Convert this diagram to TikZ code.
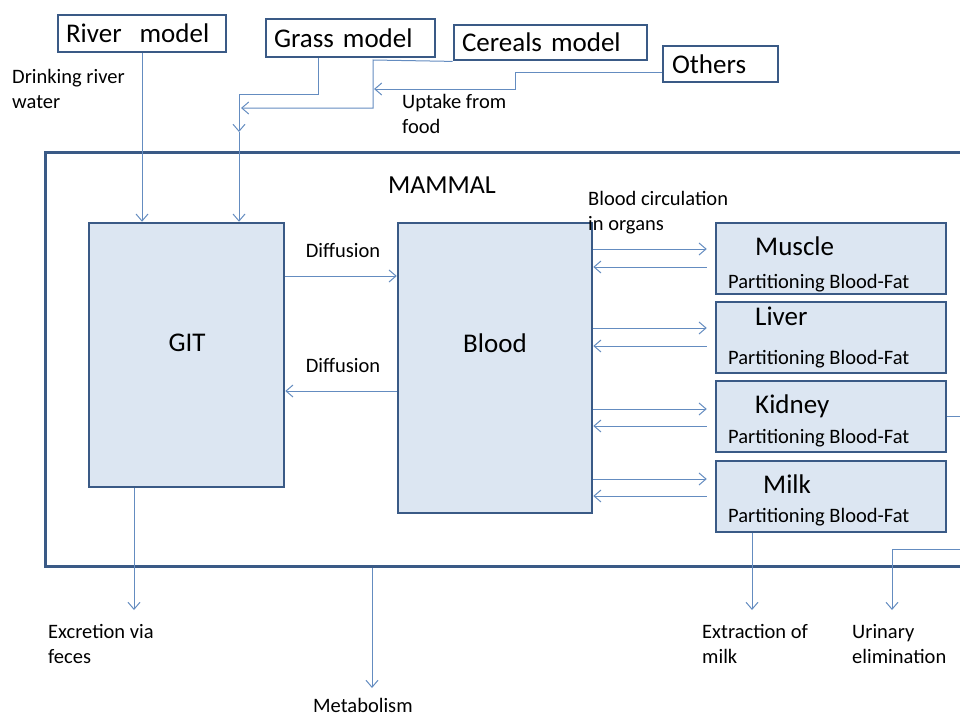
\documentclass[tikz,border=0pt]{standalone}
\usepackage{fontspec}
\setmainfont{Carlito}
\usetikzlibrary{arrows.meta}
\definecolor{edgeblue}{RGB}{58,90,134}
\definecolor{fillblue}{RGB}{220,230,242}
\definecolor{flowblue}{RGB}{100,140,192}
\tikzset{
  bigfont/.style={font=\fontsize{27}{32}\selectfont},
  smallfont/.style={font=\fontsize{20.5}{24.5}\selectfont},
  topbox/.style={draw=edgeblue, line width=2.8pt, fill=white, inner ysep=0pt, inner xsep=8pt, align=left, bigfont},
  compbox/.style={draw=edgeblue, line width=2.5pt, fill=fillblue, inner sep=0pt, bigfont},
  framebox/.style={draw=edgeblue, line width=3pt, inner sep=0pt},
  lbl/.style={inner sep=0pt, smallfont, align=left},
  flowarrow/.style={draw=flowblue, line width=1pt, -{Straight Barb[length=7pt,width=12pt,line width=1pt]}},
}
\begin{document}
\begin{tikzpicture}[x=1pt,y=-1pt]
\useasboundingbox (0,0) rectangle (960,717);
\clip (0,0) rectangle (960,717);

% outer frame
\node[framebox, minimum width=955, minimum height=414] (mammal) at (522.5,359) {};
\node[inner sep=0pt, font=\fontsize{26}{30}\selectfont, anchor=base] (mammallbl) at (442,193) {MAMMAL};

% top source boxes
\node[topbox, text width=152, minimum height=37] (river) at (142,33.5) {River\ \ model};
\node[topbox, text width=153, minimum height=38] (grass) at (350.5,38) {Grass model};
\node[topbox, text width=177, minimum height=35] (cereals) at (550.5,42.5) {Cereals model};
\node[topbox, text width=97, inner xsep=9pt, minimum height=36] (others) at (720.5,64) {Others};

% compartments
\node[compbox, minimum width=195, minimum height=264] (git) at (186.5,355) {};
\node[inner sep=0pt, bigfont] (gittext) at (187,343) {GIT};
\node[compbox, minimum width=194, minimum height=290] (blood) at (495,368) {};
\node[inner sep=0pt, bigfont] (bloodtext) at (495,343) {Blood};

\node[compbox, minimum width=230, minimum height=71] (muscle) at (831,258.5) {};
\node[compbox, minimum width=230, minimum height=71] (liver) at (831,337.5) {};
\node[compbox, minimum width=230, minimum height=71] (kidney) at (831,416.5) {};
\node[compbox, minimum width=230, minimum height=71] (milk) at (831,496.5) {};

\node[inner sep=0pt, bigfont, anchor=base west] (musclename) at (755,255) {Muscle};
\node[inner sep=0pt, bigfont, anchor=base west] (livername) at (755,325) {Liver};
\node[inner sep=0pt, bigfont, anchor=base west] (kidneyname) at (755,413) {Kidney};
\node[inner sep=0pt, bigfont, anchor=base west] (milkname) at (763,493) {Milk};
\node[lbl, anchor=base west] (musclepart) at (728,288) {Partitioning Blood-Fat};
\node[lbl, anchor=base west] (liverpart) at (728,364) {Partitioning Blood-Fat};
\node[lbl, anchor=base west] (kidneypart) at (728,443) {Partitioning Blood-Fat};
\node[lbl, anchor=base west] (milkpart) at (728,522) {Partitioning Blood-Fat};

% labels
\node[lbl, anchor=base west] (drinklbl) at (12,108) {Drinking river\\water};
\node[lbl, anchor=base west] (uptakelbl) at (402,133) {Uptake from\\food};
\node[lbl, anchor=base west] (circlbl) at (588,230) {Blood circulation\\in organs};
\node[lbl, anchor=base] (diff1) at (343,257) {Diffusion};
\node[lbl, anchor=base] (diff2) at (343,372) {Diffusion};
\node[lbl, anchor=base west] (feceslbl) at (48,663) {Excretion via\\feces};
\node[lbl, anchor=base west] (milklbl) at (702,663) {Extraction of\\milk};
\node[lbl, anchor=base west] (urinelbl) at (852,663) {Urinary\\elimination};
\node[lbl, anchor=base west] (metablbl) at (313,712) {Metabolism};

% free ends
\coordinate (grassjoin) at (239,132);
\coordinate (fecesend) at (134,610);
\coordinate (metabend) at (372,688);
\coordinate (milkend) at (752,610);
\coordinate (urineend) at (892,610);

% inputs
\draw[flowarrow] (river.south) -- (river.south |- git.north);
\draw[flowarrow] (318,0 |- grass.south) -- (318,94) -- (239,94) -- (grassjoin);
\draw[flowarrow] (grassjoin) -- (grassjoin |- git.north);
\draw[flowarrow] (cereals.south west) -- (373,60) -- (373,108) -- (241,108);
\draw[flowarrow] (others.west |- 0,72) -- (515,72) -- (515,89) -- (374,89);

% diffusion
\draw[flowarrow] (git.east |- 0,276) -- (blood.west |- 0,276);
\draw[flowarrow] (blood.west |- 0,391) -- (git.east |- 0,391);

% circulation
\draw[flowarrow, shorten >=8pt] (blood.east |- 0,249) -- (muscle.west |- 0,249);
\draw[flowarrow, shorten <=8pt] (muscle.west |- 0,267) -- (blood.east |- 0,267);
\draw[flowarrow, shorten >=8pt] (blood.east |- 0,328) -- (liver.west |- 0,328);
\draw[flowarrow, shorten <=8pt] (liver.west |- 0,346) -- (blood.east |- 0,346);
\draw[flowarrow, shorten >=8pt] (blood.east |- 0,409) -- (kidney.west |- 0,409);
\draw[flowarrow, shorten <=8pt] (kidney.west |- 0,426) -- (blood.east |- 0,426);
\draw[flowarrow, shorten >=8pt] (blood.east |- 0,479) -- (milk.west |- 0,479);
\draw[flowarrow, shorten <=8pt] (milk.west |- 0,496) -- (blood.east |- 0,496);

% outputs
\draw[flowarrow] (fecesend |- git.south) -- (fecesend);
\draw[flowarrow] (metabend |- mammal.south) -- (metabend);
\draw[flowarrow] (milkend |- milk.south) -- (milkend);
\draw[flowarrow] (kidney.east) -- (1000,416.5) -- (1000,549) -- (892,549) -- (urineend);
\end{tikzpicture}
\end{document}
